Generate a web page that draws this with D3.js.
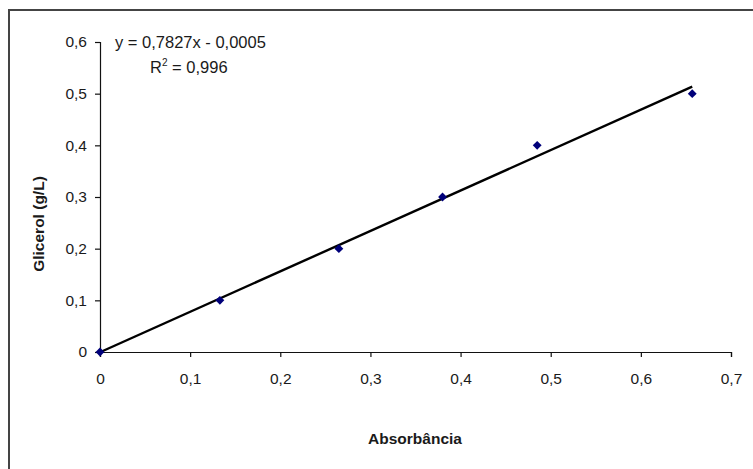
<!DOCTYPE html>
<html>
<head>
<meta charset="utf-8">
<script src="https://cdn.jsdelivr.net/npm/d3@7"></script>
<style>
  body { margin: 0; background: #fff; }
  text { font-family: "Liberation Sans", Arial, sans-serif; fill: #1a1a1a; }
</style>
</head>
<body>
<div id="chart"></div>
<script>
// calibration points
const absorbancia = [0, 0.133, 0.265, 0.38, 0.485, 0.657];
const glicerol = [0, 0.1, 0.2, 0.3, 0.4, 0.5];
const xTicks = [0, 0.1, 0.2, 0.3, 0.4, 0.5, 0.6, 0.7];
const yTicks = [0, 0.1, 0.2, 0.3, 0.4, 0.5, 0.6];
const slope = 0.7827;
const intercept = -0.0005;

const W = 753, H = 469;
const margin = { top: 42, right: 22, bottom: 117, left: 100 };
const width = W - margin.left - margin.right;
const height = H - margin.top - margin.bottom;

const fmt = d => (d === 0 ? '0' : d3.format('.1f')(d).replace('.', ','));

const root = d3.select('#chart').append('svg')
  .attr('width', W)
  .attr('height', H);

// outer chart frame
root.append('rect')
  .attr('x', 9).attr('y', 10)
  .attr('width', W + 10).attr('height', H + 10)
  .attr('fill', 'none')
  .attr('stroke', '#444')
  .attr('stroke-width', 2);

const svg = root.append('g')
  .attr('transform', `translate(${margin.left},${margin.top})`);

const x = d3.scaleLinear().domain([0, 0.7]).range([0, width]);
const y = d3.scaleLinear().domain([0, 0.6]).range([height, 0]);

const xAxis = svg.append('g')
  .attr('transform', `translate(0,${height})`)
  .call(d3.axisBottom(x).tickValues(xTicks).tickFormat(fmt).tickSize(5).tickPadding(16));

const yAxis = svg.append('g')
  .call(d3.axisLeft(y).tickValues(yTicks).tickFormat(fmt).tickSize(5).tickPadding(8));

[xAxis, yAxis].forEach(a => {
  a.select('.domain').attr('stroke', '#111').attr('stroke-width', 1.2);
  a.selectAll('.tick line').attr('stroke', '#111').attr('stroke-width', 1.2);
  a.selectAll('.tick text')
    .attr('font-size', '15.5px')
    .attr('font-family', '"Liberation Sans", Arial, sans-serif')
    .attr('fill', '#1a1a2a');
});

// trend line
const xMax = d3.max(absorbancia);
svg.append('line')
  .attr('x1', x(0)).attr('y1', y(slope * 0 + intercept))
  .attr('x2', x(xMax)).attr('y2', y(slope * xMax + intercept))
  .attr('stroke', '#000')
  .attr('stroke-width', 2.4);

// markers
const pts = absorbancia.map((a, i) => ({ a, g: glicerol[i] }));
svg.selectAll('.pt')
  .data(pts)
  .join('path')
  .attr('class', 'pt')
  .attr('d', d3.symbol().type(d3.symbolDiamond2).size(50))
  .attr('transform', d => `translate(${x(d.a)},${y(d.g)})`)
  .attr('fill', '#00007a');

// equation text
svg.append('text')
  .attr('x', 15).attr('y', 6)
  .attr('font-size', '16.5px')
  .text('y = 0,7827x - 0,0005');

const r2 = svg.append('text')
  .attr('x', 50).attr('y', 31)
  .attr('font-size', '16.5px');
r2.append('tspan').text('R');
r2.append('tspan').attr('dy', -7).attr('font-size', '10px').text('2');
r2.append('tspan').attr('dy', 7).text(' = 0,996');

// axis titles
svg.append('text')
  .attr('transform', 'rotate(-90)')
  .attr('x', -height / 2 - 27)
  .attr('y', -56)
  .attr('text-anchor', 'middle')
  .attr('font-size', '15.5px')
  .attr('font-weight', 'bold')
  .text('Glicerol (g/L)');

svg.append('text')
  .attr('x', 315)
  .attr('y', height + 92)
  .attr('text-anchor', 'middle')
  .attr('font-size', '15.5px')
  .attr('font-weight', 'bold')
  .text('Absorbância');
</script>
</body>
</html>
